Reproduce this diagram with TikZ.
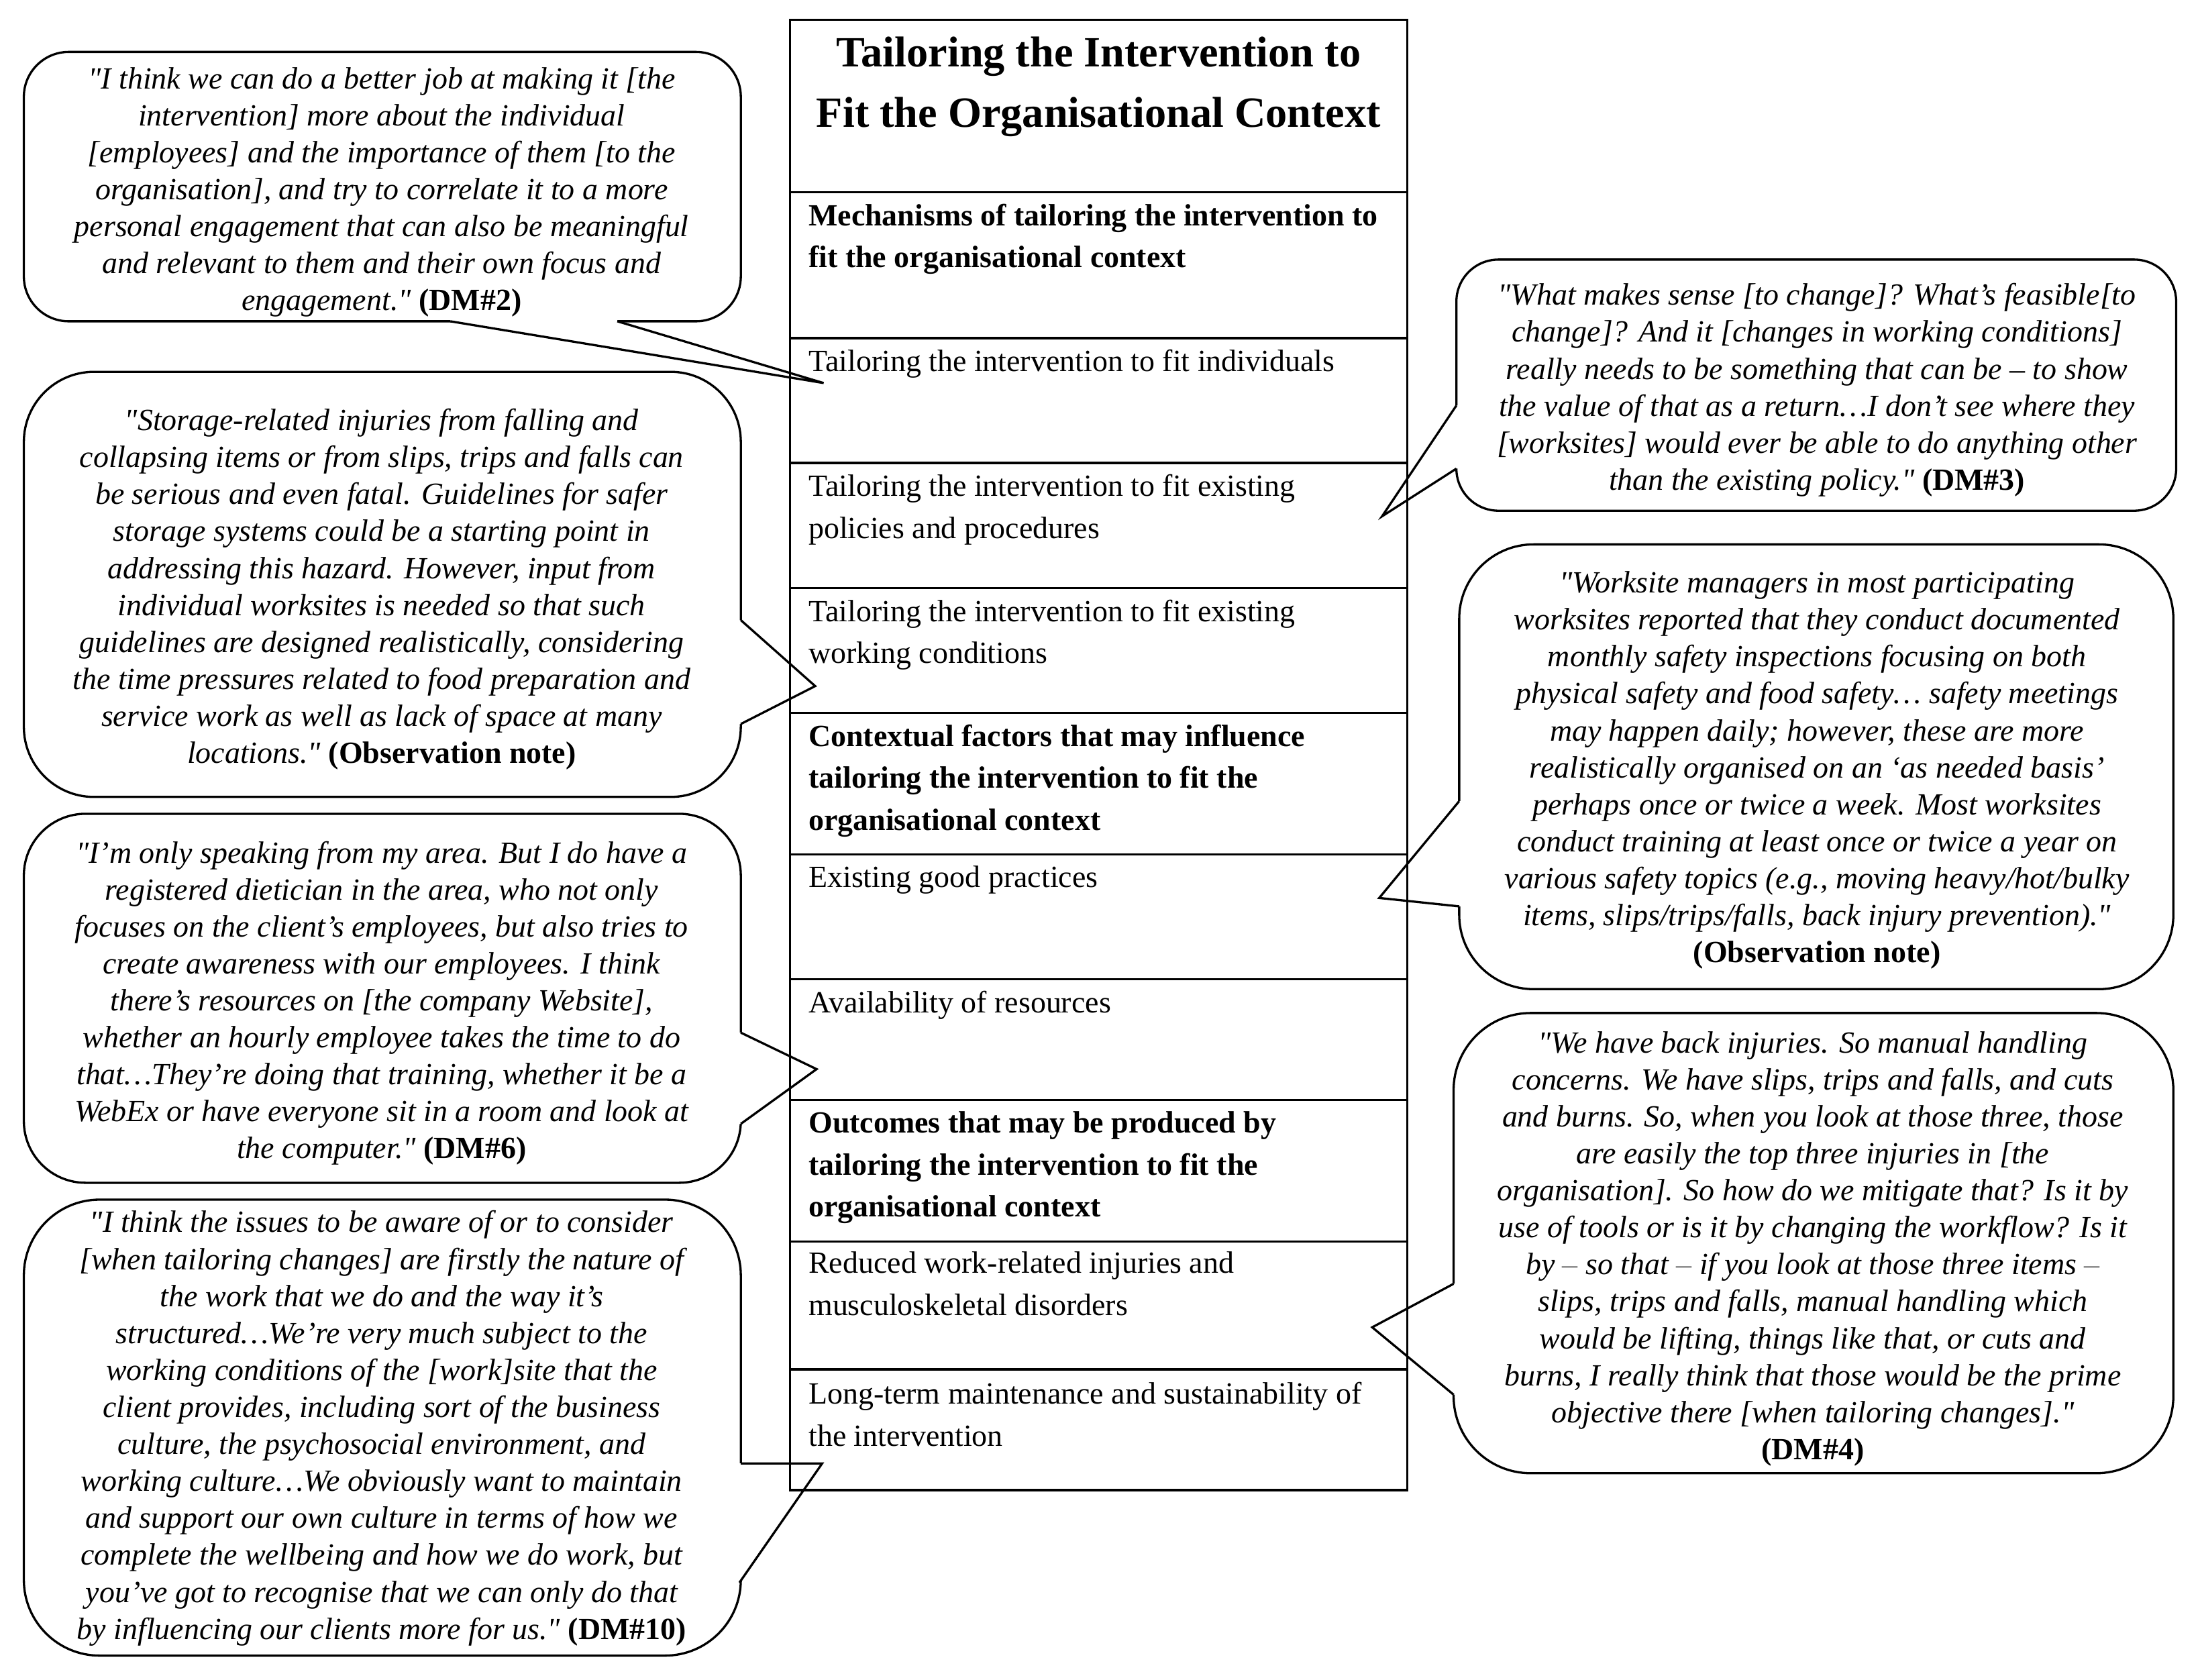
\documentclass[tikz,border=0pt]{standalone}
\usepackage{fontspec}
\setmainfont{Liberation Serif}[Ligatures=TeXOff]

\begin{document}
\begin{tikzpicture}[x=0.02cm, y=-0.02cm,
  bub/.style = {draw, line width=0.9pt, fill=white},
  tail/.style = {line width=0.9pt, line join=miter},
  tbl/.style = {line width=0.9pt},
  quote/.style = {align=center, inner sep=0pt, font=\fontsize{12.5}{15}\selectfont\itshape},
  cell/.style = {anchor=north west, align=left, inner sep=0pt, font=\fontsize{12.5}{17}\selectfont},
  head/.style = {cell, font=\fontsize{12.5}{17}\selectfont\bfseries}]
\useasboundingbox (0,0) rectangle (1568,1197);

\draw[bub, rounded corners=0.64cm] (17,37) rectangle (528,229);
\fill[white] (321,226) -- (440,226) -- (440,229) -- (587,273) -- (321,229) -- cycle; \draw[tail] (321,229) -- (587,273) -- (440,229);
\draw[bub, rounded corners=1.0cm] (17,265) rectangle (528,568);
\fill[white] (525,442) -- (528,442) -- (581,489) -- (528,516) -- (525,516) -- cycle; \draw[tail] (528,442) -- (581,489) -- (528,516);
\draw[bub, rounded corners=0.88cm] (17,580) rectangle (528,843);
\fill[white] (525,736) -- (528,736) -- (582,762) -- (528,801) -- (525,801) -- cycle; \draw[tail] (528,736) -- (582,762) -- (528,801);
\draw[bub, rounded corners=1.08cm] (17,855) rectangle (528,1180);
\fill[white] (525,1043) -- (586,1043) -- (527,1128) -- (524,1128) -- cycle; \draw[tail] (528,1043) -- (586,1043) -- (527,1128);
\draw[bub, rounded corners=0.6cm] (1038,185) rectangle (1551,364);
\fill[white] (1041,289) -- (1038,289) -- (985,368) -- (1038,334) -- (1041,334) -- cycle; \draw[tail] (1038,289) -- (985,368) -- (1038,334);
\draw[bub, rounded corners=1.06cm] (1040,388) rectangle (1549,705);
\fill[white] (1043,571) -- (1040,571) -- (983,640) -- (1040,646) -- (1043,646) -- cycle; \draw[tail] (1040,571) -- (983,640) -- (1040,646);
\draw[bub, rounded corners=1.1cm] (1036,722) rectangle (1549,1050);
\fill[white] (1039,915) -- (1036,915) -- (978,946) -- (1036,994) -- (1039,994) -- cycle; \draw[tail] (1036,915) -- (978,946) -- (1036,994);

\node[quote](dmtwo) at (272,137) {"I think we can do a better job at making it [the\\ intervention] more about the individual\\{}[employees] and the importance of them [to the\\ organisation], and try to correlate it to a more\\ personal engagement that can also be meaningful\\ and relevant to them and their own focus and\\ engagement." \textup{\textbf{(DM\#2)}}};
\node[quote](obsleft) at (272,420) {"Storage-related injuries from falling and\\ collapsing items or from slips, trips and falls can\\ be serious and even fatal. Guidelines for safer\\ storage systems could be a starting point in\\ addressing this hazard. However, input from\\ individual worksites is needed so that such\\ guidelines are designed realistically, considering\\ the time pressures related to food preparation and\\ service work as well as lack of space at many\\ locations." \textup{\textbf{(Observation note)}}};
\node[quote](dmsix) at (272,715) {"I’m only speaking from my area. But I do have a\\ registered dietician in the area, who not only\\ focuses on the client’s employees, but also tries to\\ create awareness with our employees. I think\\ there’s resources on [the company Website],\\ whether an hourly employee takes the time to do\\ that…They’re doing that training, whether it be a\\ WebEx or have everyone sit in a room and look at\\ the computer." \textup{\textbf{(DM\#6)}}};
\node[quote](dmten) at (272,1018) {"I think the issues to be aware of or to consider\\{}[when tailoring changes] are firstly the nature of\\ the work that we do and the way it’s\\ structured…We’re very much subject to the\\ working conditions of the [work]site that the\\ client provides, including sort of the business\\ culture, the psychosocial environment, and\\ working culture…We obviously want to maintain\\ and support our own culture in terms of how we\\ complete the wellbeing and how we do work, but\\ you’ve got to recognise that we can only do that\\ by influencing our clients more for us." \textup{\textbf{(DM\#10)}}};
\node[quote](dmthree) at (1295,278) {"What makes sense [to change]? What’s feasible[to\\ change]? And it [changes in working conditions]\\ really needs to be something that can be – to show\\ the value of that as a return…I don’t see where they\\{}[worksites] would ever be able to do anything other\\ than the existing policy." \textup{\textbf{(DM\#3)}}};
\node[quote](obsright) at (1295,549) {"Worksite managers in most participating\\ worksites reported that they conduct documented\\ monthly safety inspections focusing on both\\ physical safety and food safety… safety meetings\\ may happen daily; however, these are more\\ realistically organised on an ‘as needed basis’\\ perhaps once or twice a week. Most worksites\\ conduct training at least once or twice a year on\\ various safety topics (e.g., moving heavy/hot/bulky\\ items, slips/trips/falls, back injury prevention)."\\ \textup{\textbf{(Observation note)}}};
\node[quote](dmfour) at (1292,890) {"We have back injuries. So manual handling\\ concerns. We have slips, trips and falls, and cuts\\ and burns. So, when you look at those three, those\\ are easily the top three injuries in [the\\ organisation]. So how do we mitigate that? Is it by\\ use of tools or is it by changing the workflow? Is it\\ by {\color{gray}–} so that {\color{gray}–} if you look at those three items {\color{gray}–}\\ slips, trips and falls, manual handling which\\ would be lifting, things like that, or cuts and\\ burns, I really think that those would be the prime\\ objective there [when tailoring changes]."\\ \textup{\textbf{(DM\#4)}}};

\draw[tbl] (563,14) rectangle (1003,1062);
\draw[tbl] (563,137) -- (1003,137); \draw[tbl] (563,241) -- (1003,241); \draw[tbl] (563,330) -- (1003,330); \draw[tbl] (563,419) -- (1003,419); \draw[tbl] (563,508) -- (1003,508);
\draw[tbl] (563,609) -- (1003,609); \draw[tbl] (563,698) -- (1003,698); \draw[tbl] (563,784) -- (1003,784); \draw[tbl] (563,885) -- (1003,885); \draw[tbl] (563,976) -- (1003,976);

\node[align=center, inner sep=0pt, font=\fontsize{17.5}{24.5}\selectfont\bfseries](title) at (783,62) {Tailoring the Intervention to\\ Fit the Organisational Context};
\node[head](mech) at (576,145) {Mechanisms of tailoring the intervention to\\ fit the organisational context};
\node[cell](indiv) at (576,249) {Tailoring the intervention to fit individuals};
\node[cell](policy) at (576,338) {Tailoring the intervention to fit existing\\ policies and procedures};
\node[cell](workcond) at (576,427) {Tailoring the intervention to fit existing\\ working conditions};
\node[head](factors) at (576,516) {Contextual factors that may influence\\ tailoring the intervention to fit the\\ organisational context};
\node[cell](goodprac) at (576,617) {Existing good practices};
\node[cell](resources) at (576,706) {Availability of resources};
\node[head](outcomes) at (576,792) {Outcomes that may be produced by\\ tailoring the intervention to fit the\\ organisational context};
\node[cell](injuries) at (576,892) {Reduced work-related injuries and\\ musculoskeletal disorders};
\node[cell](sustain) at (576,985) {Long-term maintenance and sustainability of\\ the intervention};
\end{tikzpicture}
\end{document}
